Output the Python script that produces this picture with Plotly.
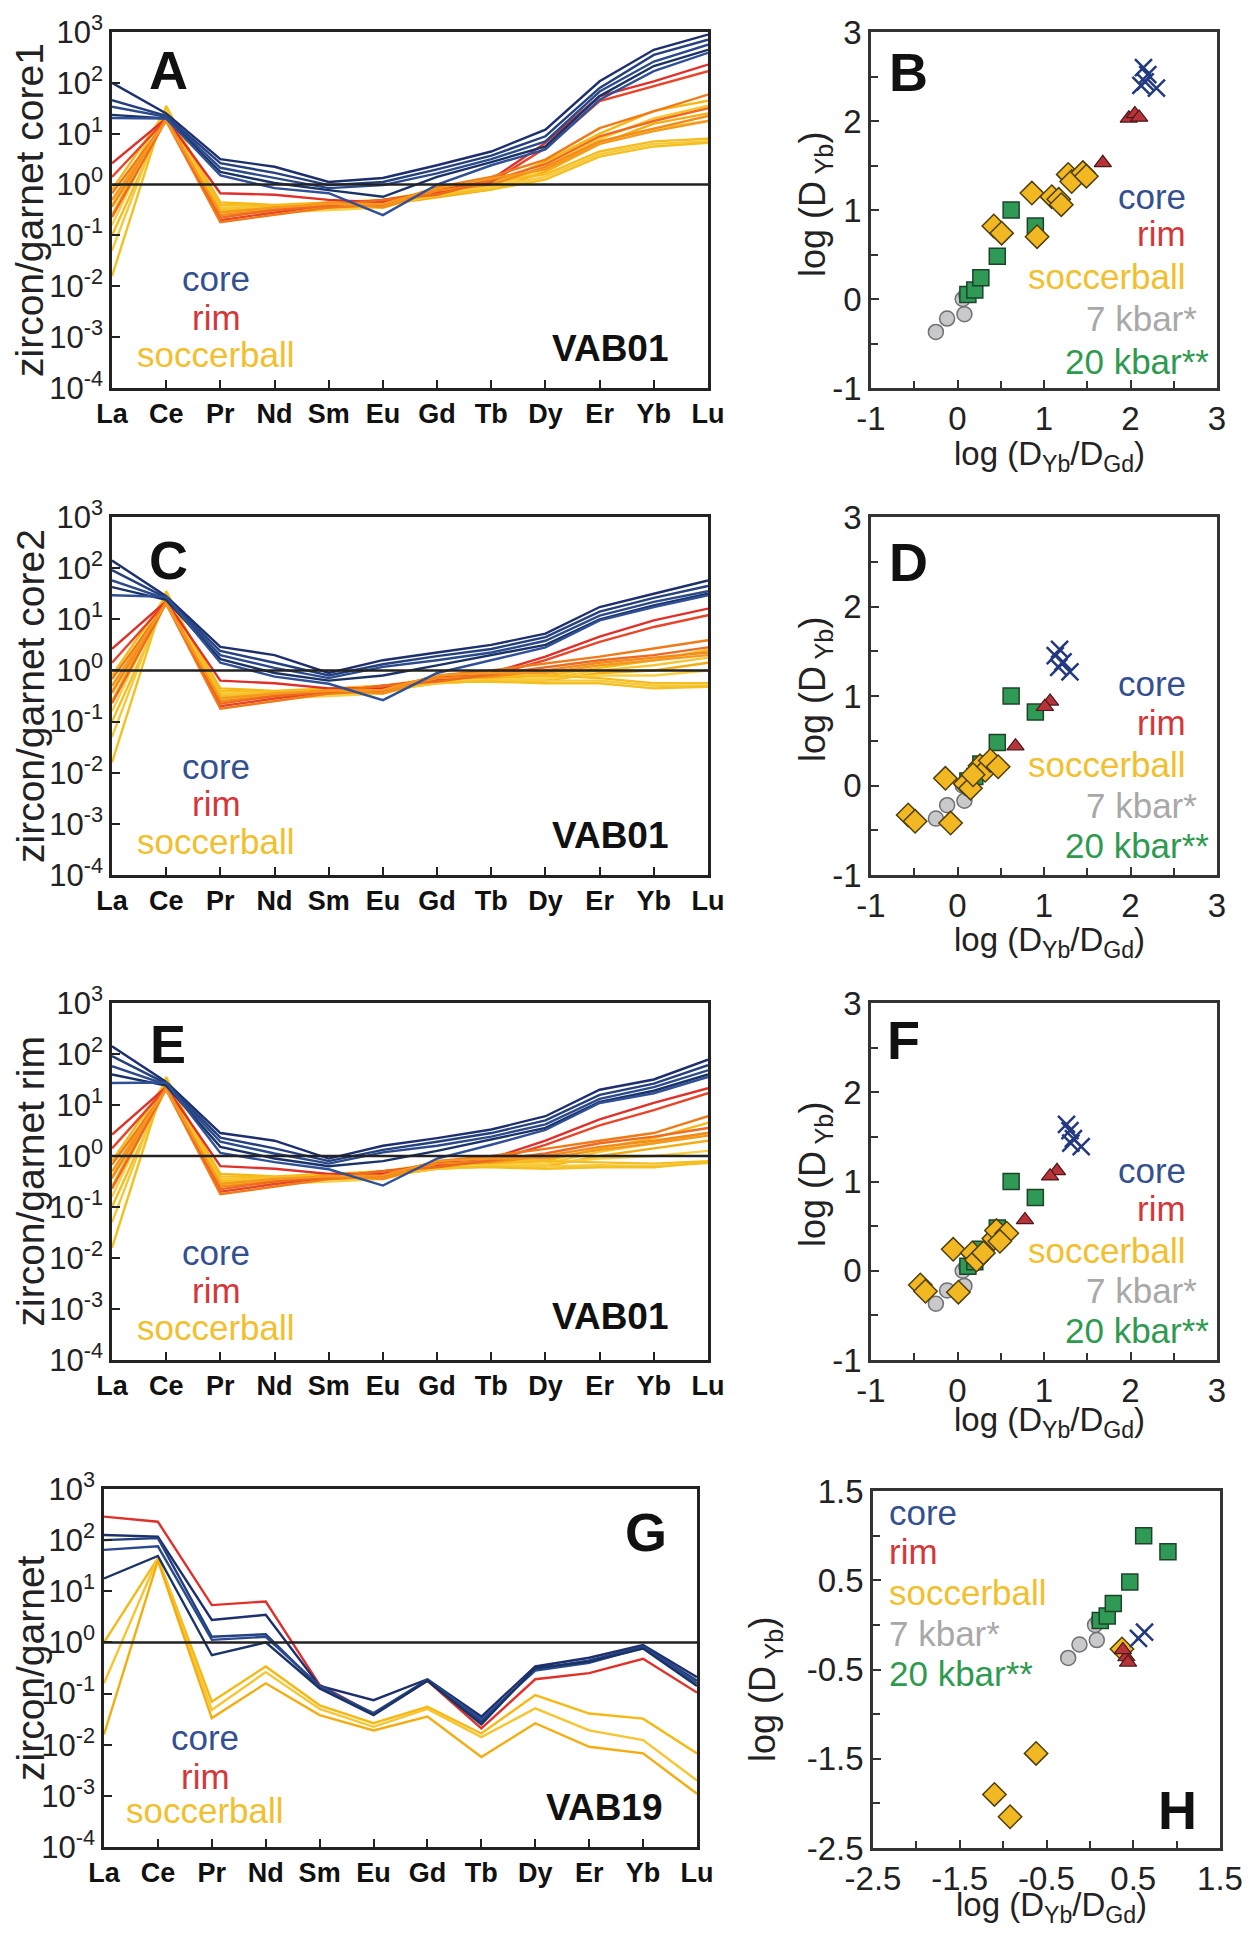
import plotly.graph_objects as go

REE = ["La", "Ce", "Pr", "Nd", "Sm", "Eu", "Gd", "Tb", "Dy", "Er", "Yb", "Lu"]
Y_TICKVALS = [1e-4, 1e-3, 1e-2, 1e-1, 1e0, 1e1, 1e2, 1e3]
Y_TICKTEXT = ["10<sup>-4</sup>", "10<sup>-3</sup>", "10<sup>-2</sup>", "10<sup>-1</sup>",
              "10<sup>0</sup>", "10<sup>1</sup>", "10<sup>2</sup>", "10<sup>3</sup>"]

# ---- log10(zircon/garnet) for each grain (La..Lu) ----
A_core = [
    [2.00, 1.40, 0.50, 0.35, 0.05, 0.13, 0.38, 0.65, 1.08, 2.03, 2.65, 2.95],
    [1.66, 1.35, 0.42, 0.23, -0.01, 0.05, 0.30, 0.57, 0.95, 1.90, 2.55, 2.85],
    [1.53, 1.33, 0.33, 0.13, -0.07, -0.01, 0.22, 0.50, 0.85, 1.83, 2.42, 2.75],
    [1.37, 1.30, 0.25, 0.03, -0.11, -0.24, 0.15, 0.44, 0.75, 1.74, 2.33, 2.65],
    [1.31, 1.30, 0.18, -0.07, -0.17, -0.60, 0.00, 0.38, 0.69, 1.67, 2.23, 2.59],
]
A_rim = [
    [0.42, 1.30, -0.17, -0.20, -0.30, -0.35, -0.10, 0.10, 0.82, 1.74, 2.03, 2.36],
    [0.15, 1.28, -0.70, -0.55, -0.40, -0.30, -0.15, 0.05, 0.72, 1.64, 1.93, 2.23],
    [-0.17, 1.25, -0.74, -0.60, -0.45, -0.40, -0.05, 0.15, 0.49, 1.11, 1.44, 1.77],
    [-0.44, 1.30, -0.60, -0.50, -0.35, -0.45, -0.12, 0.00, 0.35, 0.85, 1.10, 1.35],
    [-0.64, 1.27, -0.65, -0.50, -0.42, -0.30, -0.20, 0.08, 0.40, 0.95, 1.25, 1.50],
    [-0.30, 1.25, -0.55, -0.45, -0.38, -0.38, -0.08, 0.12, 0.30, 0.80, 1.05, 1.25],
]
A_soc = [
    [-0.10, 1.45, -0.35, -0.40, -0.35, -0.30, -0.15, 0.00, 0.45, 1.00, 1.45, 1.65],
    [-0.40, 1.50, -0.45, -0.45, -0.40, -0.35, -0.20, -0.05, 0.35, 0.90, 1.30, 1.55],
    [-0.60, 1.40, -0.50, -0.50, -0.45, -0.40, -0.25, -0.10, 0.25, 0.80, 1.20, 1.40],
    [-0.80, 1.45, -0.55, -0.55, -0.50, -0.45, -0.18, -0.08, 0.30, 0.85, 1.10, 1.25],
    [-1.00, 1.35, -0.40, -0.42, -0.38, -0.30, -0.12, 0.05, 0.20, 0.65, 0.85, 0.90],
    [-1.30, 1.50, -0.60, -0.50, -0.42, -0.38, -0.22, -0.05, 0.15, 0.60, 0.80, 0.85],
    [-1.80, 1.55, -0.50, -0.48, -0.45, -0.42, -0.20, -0.10, 0.10, 0.55, 0.75, 0.82],
]

C_core = [
    [2.15, 1.45, 0.46, 0.30, -0.05, 0.20, 0.35, 0.50, 0.72, 1.24, 1.50, 1.76],
    [1.96, 1.42, 0.38, 0.15, -0.10, 0.12, 0.28, 0.42, 0.65, 1.15, 1.42, 1.65],
    [1.76, 1.40, 0.30, 0.05, -0.15, 0.07, 0.20, 0.35, 0.58, 1.07, 1.34, 1.55],
    [1.63, 1.38, 0.22, -0.05, -0.20, -0.10, 0.10, 0.30, 0.50, 1.00, 1.27, 1.50],
    [1.47, 1.44, 0.15, -0.12, -0.26, -0.58, -0.05, 0.20, 0.45, 0.98, 1.24, 1.47],
]
C_rim = [
    [0.42, 1.35, -0.20, -0.25, -0.35, -0.35, -0.12, -0.05, 0.27, 0.66, 0.98, 1.21],
    [0.15, 1.33, -0.70, -0.55, -0.42, -0.30, -0.18, -0.10, 0.20, 0.56, 0.85, 1.08],
    [-0.17, 1.30, -0.75, -0.60, -0.45, -0.40, -0.10, 0.00, 0.14, 0.27, 0.43, 0.59],
    [-0.44, 1.35, -0.60, -0.50, -0.38, -0.45, -0.15, -0.12, 0.00, 0.15, 0.25, 0.35],
    [-0.64, 1.32, -0.65, -0.50, -0.42, -0.30, -0.22, -0.08, 0.05, 0.20, 0.30, 0.45],
    [-0.30, 1.30, -0.55, -0.45, -0.40, -0.38, -0.10, -0.05, -0.05, 0.10, 0.20, 0.30],
]
C_soc = [
    [-0.10, 1.45, -0.35, -0.40, -0.35, -0.30, -0.20, -0.15, -0.10, 0.05, 0.20, 0.40],
    [-0.40, 1.50, -0.45, -0.45, -0.40, -0.35, -0.22, -0.18, -0.15, 0.00, 0.10, 0.25],
    [-0.60, 1.40, -0.50, -0.50, -0.45, -0.40, -0.25, -0.20, -0.20, -0.05, 0.00, 0.15],
    [-0.80, 1.45, -0.55, -0.55, -0.50, -0.45, -0.20, -0.20, -0.15, -0.10, -0.10, 0.00],
    [-1.00, 1.35, -0.40, -0.42, -0.38, -0.30, -0.15, -0.10, -0.10, -0.15, -0.25, -0.25],
    [-1.30, 1.50, -0.60, -0.50, -0.42, -0.38, -0.25, -0.20, -0.20, -0.20, -0.30, -0.30],
    [-1.80, 1.55, -0.50, -0.48, -0.45, -0.42, -0.22, -0.22, -0.25, -0.25, -0.35, -0.32],
]

E_core = [
    [2.15, 1.45, 0.45, 0.30, -0.05, 0.20, 0.35, 0.52, 0.78, 1.30, 1.50, 1.89],
    [1.96, 1.42, 0.36, 0.15, -0.10, 0.12, 0.28, 0.45, 0.70, 1.20, 1.42, 1.78],
    [1.76, 1.40, 0.28, 0.05, -0.15, 0.07, 0.20, 0.38, 0.62, 1.12, 1.35, 1.68],
    [1.60, 1.38, 0.18, -0.05, -0.20, -0.10, 0.10, 0.32, 0.55, 1.06, 1.28, 1.60],
    [1.43, 1.44, 0.06, -0.12, -0.26, -0.58, -0.05, 0.22, 0.51, 1.04, 1.23, 1.55],
]
E_rim = [
    [0.42, 1.35, -0.20, -0.25, -0.35, -0.35, -0.12, -0.05, 0.30, 0.72, 1.04, 1.33],
    [0.15, 1.33, -0.70, -0.55, -0.42, -0.30, -0.18, -0.10, 0.22, 0.60, 0.90, 1.23],
    [-0.17, 1.30, -0.75, -0.60, -0.45, -0.40, -0.10, 0.00, 0.14, 0.30, 0.45, 0.78],
    [-0.44, 1.35, -0.60, -0.50, -0.38, -0.45, -0.15, -0.12, 0.00, 0.18, 0.30, 0.45],
    [-0.64, 1.32, -0.65, -0.50, -0.42, -0.30, -0.22, -0.08, 0.05, 0.25, 0.38, 0.55],
    [-0.30, 1.30, -0.55, -0.45, -0.40, -0.38, -0.10, -0.05, -0.05, 0.12, 0.25, 0.40],
]
E_soc = [
    [-0.10, 1.45, -0.35, -0.40, -0.35, -0.30, -0.20, -0.15, -0.10, 0.15, 0.35, 0.65],
    [-0.40, 1.50, -0.45, -0.45, -0.40, -0.35, -0.22, -0.18, -0.15, 0.08, 0.25, 0.45],
    [-0.60, 1.40, -0.50, -0.50, -0.45, -0.40, -0.25, -0.20, -0.20, 0.00, 0.15, 0.30],
    [-0.80, 1.45, -0.55, -0.55, -0.50, -0.45, -0.20, -0.20, -0.15, -0.05, 0.00, 0.10],
    [-1.00, 1.35, -0.40, -0.42, -0.38, -0.30, -0.15, -0.10, -0.10, -0.12, -0.15, -0.10],
    [-1.30, 1.50, -0.60, -0.50, -0.42, -0.38, -0.25, -0.20, -0.20, -0.18, -0.20, -0.14],
    [-1.80, 1.55, -0.50, -0.48, -0.45, -0.42, -0.22, -0.22, -0.25, -0.22, -0.22, -0.12],
]

G_core = [
    [2.10, 2.07, 0.44, 0.54, -0.85, -1.13, -0.72, -1.45, -0.47, -0.30, -0.05, -0.68],
    [2.00, 2.04, 0.11, 0.16, -0.88, -1.38, -0.73, -1.55, -0.52, -0.35, -0.08, -0.75],
    [1.81, 1.88, 0.05, 0.11, -0.85, -1.40, -0.74, -1.50, -0.55, -0.40, -0.10, -0.80],
    [1.25, 1.69, -0.25, 0.00, -0.90, -1.42, -0.75, -1.60, -0.50, -0.38, -0.12, -0.85],
]
G_rim = [
    [2.46, 2.36, 0.73, 0.80, -0.83, -1.40, -0.75, -1.68, -0.72, -0.60, -0.32, -0.98],
]
G_soc = [
    [0.00, 1.65, -1.16, -0.47, -1.23, -1.58, -1.26, -1.78, -1.03, -1.39, -1.49, -2.17],
    [-0.80, 1.65, -1.32, -0.58, -1.30, -1.65, -1.30, -1.85, -1.29, -1.72, -1.91, -2.70],
    [-1.80, 1.60, -1.48, -0.80, -1.42, -1.72, -1.45, -2.24, -1.58, -2.04, -2.17, -2.96],
]

# ---- scatter: log(DYb/DGd), log(DYb) ----
REF7_x = [-0.25, -0.12, 0.08, 0.06, 0.10]
REF7_y = [-0.37, -0.22, -0.17, 0.00, 0.05]
REF20_x = [0.12, 0.20, 0.27, 0.46, 0.62, 0.90]
REF20_y = [0.05, 0.10, 0.24, 0.48, 1.00, 0.82]

B_core_x = [2.15, 2.20, 2.17, 2.30, 2.12]
B_core_y = [2.60, 2.52, 2.44, 2.37, 2.40]
B_rim_x = [1.98, 2.05, 2.10, 1.68]
B_rim_y = [2.03, 2.08, 2.04, 1.53]
B_soc_x = [0.42, 0.51, 0.86, 0.92, 1.09, 1.17, 1.20, 1.28, 1.32, 1.45, 1.49]
B_soc_y = [0.82, 0.74, 1.19, 0.70, 1.15, 1.12, 1.06, 1.40, 1.32, 1.42, 1.38]

D_core_x = [1.18, 1.13, 1.22, 1.30, 1.17]
D_core_y = [1.52, 1.45, 1.38, 1.27, 1.32]
D_rim_x = [1.07, 1.01, 0.67]
D_rim_y = [0.94, 0.88, 0.44]
D_soc_x = [-0.57, -0.49, -0.14, -0.08, 0.09, 0.15, 0.26, 0.32, 0.38, 0.47, 0.18]
D_soc_y = [-0.33, -0.40, 0.08, -0.42, 0.02, -0.03, 0.22, 0.17, 0.28, 0.21, 0.12]

F_core_x = [1.26, 1.30, 1.34, 1.43, 1.31]
F_core_y = [1.64, 1.57, 1.48, 1.39, 1.43]
F_rim_x = [1.15, 1.07, 0.78]
F_rim_y = [1.12, 1.06, 0.57]
F_soc_x = [-0.43, -0.37, -0.05, 0.01, 0.17, 0.22, 0.30, 0.42, 0.45, 0.57, 0.49]
F_soc_y = [-0.16, -0.23, 0.24, -0.24, 0.20, 0.12, 0.20, 0.36, 0.45, 0.42, 0.33]

H_core_x = [0.63, 0.56]
H_core_y = [-0.08, -0.15]
H_rim_x = [0.42, 0.44, 0.38]
H_rim_y = [-0.36, -0.42, -0.28]
H_soc_x = [-0.62, -1.10, -0.92, 0.37]
H_soc_y = [-1.44, -1.90, -2.15, -0.27]

FONT = "Liberation Sans, Arial, sans-serif"
W, H = 1250, 1933

CORE_LINE = ["#1d2f6e", "#24407f", "#2a4a8c", "#1a3366", "#2f4f96"]
RIM_LINE = ["#e0302a", "#e8452a", "#f07a18", "#f38a1c", "#ee6a20", "#f5981f"]
SOC_LINE = ["#f6b812", "#f8c531", "#f4ad10", "#f9d044", "#f6bd22", "#f7c83a", "#f3c020"]

CORE_TXT = "#34508f"
RIM_TXT = "#d4373a"
SOC_TXT = "#f2c02e"
GRAY_TXT = "#a8a8a8"
GREEN_TXT = "#2e9a50"


def px_dom_x(l, r):
    return [l / W, r / W]


def px_dom_y(t, b):
    return [1 - b / H, 1 - t / H]


fig = go.Figure()
layout = {}
annotations = []

left_panels = [
    ("A", 1, (A_core, A_rim, A_soc), (112, 708, 32, 388), "zircon/garnet core1", (168, 70), "VAB01", (610, 348),
     (216, [279, 317, 354])),
    ("C", 3, (C_core, C_rim, C_soc), (112, 708, 517, 875), "zircon/garnet core2", (168, 560), "VAB01", (610, 835),
     (216, [766, 804, 841])),
    ("E", 5, (E_core, E_rim, E_soc), (112, 708, 1003, 1360), "zircon/garnet rim", (168, 1044), "VAB01", (610, 1316),
     (216, [1252, 1290, 1327])),
    ("G", 7, (G_core, G_rim, G_soc), (104, 697, 1489, 1847), "zircon/garnet", (646, 1532), "VAB19", (604, 1807),
     (205, [1737, 1776, 1810])),
]

LW = 2.4

for letter, idx, (core, rim, soc), (l, r, t, b), ylab, lpos, sample, spos, (lgx, lgys) in left_panels:
    xa = "x" if idx == 1 else f"x{idx}"
    ya = "y" if idx == 1 else f"y{idx}"
    for i, row in enumerate(soc):
        fig.add_trace(go.Scatter(x=REE, y=[10 ** v for v in row], mode="lines",
                                 line=dict(color=SOC_LINE[i % len(SOC_LINE)], width=LW),
                                 xaxis=xa, yaxis=ya, showlegend=False, hoverinfo="skip"))
    for i, row in enumerate(rim):
        fig.add_trace(go.Scatter(x=REE, y=[10 ** v for v in row], mode="lines",
                                 line=dict(color=RIM_LINE[i % len(RIM_LINE)], width=LW),
                                 xaxis=xa, yaxis=ya, showlegend=False, hoverinfo="skip"))
    for i, row in enumerate(core):
        fig.add_trace(go.Scatter(x=REE, y=[10 ** v for v in row], mode="lines",
                                 line=dict(color=CORE_LINE[i % len(CORE_LINE)], width=LW),
                                 xaxis=xa, yaxis=ya, showlegend=False, hoverinfo="skip"))
    fig.add_trace(go.Scatter(x=[REE[0], REE[-1]], y=[1, 1], mode="lines",
                             line=dict(color="#222", width=2.4), xaxis=xa, yaxis=ya,
                             showlegend=False, hoverinfo="skip"))
    kx = "xaxis" if idx == 1 else f"xaxis{idx}"
    ky = "yaxis" if idx == 1 else f"yaxis{idx}"
    layout[kx] = dict(domain=px_dom_x(l, r), anchor=ya, type="category", categoryorder="array",
                      categoryarray=REE, range=[0, 11], showline=True, mirror=True, automargin=False,
                      linecolor="#222", linewidth=2.5, ticks="inside", ticklen=8, tickwidth=2,
                      tickcolor="#222", showgrid=False, zeroline=False,
                      tickfont=dict(family=FONT, size=27, color="#111", weight="bold"))
    layout[ky] = dict(domain=px_dom_y(t, b), anchor=xa, type="log", range=[-4, 3], automargin=False,
                      tickvals=Y_TICKVALS, ticktext=Y_TICKTEXT, showline=True, mirror=True,
                      linecolor="#222", linewidth=2.5, ticks="inside", ticklen=8, tickwidth=2,
                      tickcolor="#222", showgrid=False, zeroline=False,
                      tickfont=dict(family=FONT, size=31, color="#222"))
    annotations.append(dict(text=ylab, x=30 / W, y=1 - ((t + b) / 2) / H, xref="paper", yref="paper",
                            textangle=-90, showarrow=False, xanchor="center", yanchor="middle",
                            font=dict(family=FONT, size=39, color="#222")))
    annotations.append(dict(text=letter, x=lpos[0] / W, y=1 - lpos[1] / H, xref="paper", yref="paper",
                            showarrow=False, xanchor="center", yanchor="middle",
                            font=dict(family=FONT, size=54, color="#111", weight="bold")))
    annotations.append(dict(text=sample, x=spos[0] / W, y=1 - spos[1] / H, xref="paper", yref="paper",
                            showarrow=False, xanchor="center", yanchor="middle",
                            font=dict(family=FONT, size=37, color="#111", weight="bold")))
    for txt, col, yy in zip(["core", "rim", "soccerball"], [CORE_TXT, RIM_TXT, SOC_TXT], lgys):
        annotations.append(dict(text=txt, x=lgx / W, y=1 - yy / H, xref="paper", yref="paper",
                                showarrow=False, xanchor="center", yanchor="middle",
                                font=dict(family=FONT, size=35, color=col)))

right_panels = [
    ("B", 2, (B_core_x, B_core_y, B_rim_x, B_rim_y, B_soc_x, B_soc_y), (871, 1217, 32, 388),
     [-1, 3], (908, 72), "right", [(1188, 197), (1188, 234), (1188, 276), (1199, 319), (1211, 361)], 456, 205, 815),
    ("D", 4, (D_core_x, D_core_y, D_rim_x, D_rim_y, D_soc_x, D_soc_y), (871, 1217, 517, 875),
     [-1, 3], (908, 562), "right", [(1188, 683), (1188, 722), (1188, 764), (1199, 805), (1211, 845)], 942, 690, 815),
    ("F", 6, (F_core_x, F_core_y, F_rim_x, F_rim_y, F_soc_x, F_soc_y), (871, 1217, 1003, 1360),
     [-1, 3], (904, 1040), "right", [(1188, 1170), (1188, 1208), (1188, 1250), (1199, 1290), (1211, 1330)], 1422, 1175, 815),
    ("H", 8, (H_core_x, H_core_y, H_rim_x, H_rim_y, H_soc_x, H_soc_y), (873, 1220, 1491, 1848),
     [-2.5, 1.5], (1177, 1810), "left", [(887, 1512), (887, 1551), (887, 1592), (887, 1633), (887, 1673)], 1907, 1690, 765),
]

for letter, idx, (cx, cy, rx, ry, sx, sy), (l, r, t, b), rng, lpos, align, lg, xt_y, yt_y, yt_x in right_panels:
    xa, ya = f"x{idx}", f"y{idx}"
    common = dict(xaxis=xa, yaxis=ya, mode="markers", showlegend=False, hoverinfo="skip")
    fig.add_trace(go.Scatter(x=REF7_x, y=REF7_y, marker=dict(symbol="circle", size=15, color="#c9c9cc",
                                                             line=dict(color="#6f6f75", width=1.5)), **common))
    fig.add_trace(go.Scatter(x=REF20_x, y=REF20_y, marker=dict(symbol="square", size=16, color="#2f9a55",
                                                               line=dict(color="#1d4429", width=1.5)), **common))
    fig.add_trace(go.Scatter(x=sx, y=sy, marker=dict(symbol="diamond", size=18, color="#f2b824",
                                                     line=dict(color="#4d3f0c", width=1.5)), **common))
    fig.add_trace(go.Scatter(x=rx, y=ry, marker=dict(symbol="triangle-up", size=15, color="#b8323a",
                                                     line=dict(color="#4a1818", width=1.2)), **common))
    fig.add_trace(go.Scatter(x=cx, y=cy, marker=dict(symbol="x-thin", size=17, color="#23397f",
                                                     line=dict(color="#23397f", width=2.5)), **common))
    if rng[0] == -1:
        tv = [-1, 0, 1, 2, 3]
        tt = ["-1", "0", "1", "2", "3"]
        mv = [-0.5, 0.5, 1.5, 2.5]
    else:
        tv = [-2.5, -1.5, -0.5, 0.5, 1.5]
        tt = ["-2.5", "-1.5", "-0.5", "0.5", "1.5"]
        mv = [-2, -1, 0, 1]
    axcommon = dict(showline=True, mirror=True, linecolor="#333", linewidth=2.5, ticks="inside",
                    ticklen=8, tickwidth=2, tickcolor="#333", showgrid=False, zeroline=False,
                    tickvals=tv, ticktext=tt, range=rng, automargin=False,
                    minor=dict(tickvals=mv, ticks="inside", ticklen=7, tickwidth=2, tickcolor="#333"),
                    tickfont=dict(family=FONT, size=33, color="#222"))
    layout[f"xaxis{idx}"] = dict(domain=px_dom_x(l, r), anchor=ya, **axcommon)
    layout[f"yaxis{idx}"] = dict(domain=px_dom_y(t, b), anchor=xa, **axcommon)
    annotations.append(dict(text=letter, x=lpos[0] / W, y=1 - lpos[1] / H, xref="paper", yref="paper",
                            showarrow=False, xanchor="center", yanchor="middle",
                            font=dict(family=FONT, size=54, color="#111", weight="bold")))
    labels = ["core", "rim", "soccerball", "7 kbar*", "20 kbar**"]
    cols = [CORE_TXT, RIM_TXT, SOC_TXT, GRAY_TXT, GREEN_TXT]
    for txt, col, (lx, ly) in zip(labels, cols, lg):
        annotations.append(dict(text=txt, x=lx / W, y=1 - ly / H, xref="paper", yref="paper",
                                showarrow=False, xanchor=align, yanchor="middle",
                                font=dict(family=FONT, size=35, color=col)))
    annotations.append(dict(text="log (D<sub>Yb</sub>/D<sub>Gd</sub>)", x=((l + r) / 2 + 5) / W, y=1 - xt_y / H,
                            xref="paper", yref="paper", showarrow=False, xanchor="center", yanchor="middle",
                            font=dict(family=FONT, size=33, color="#222")))
    annotations.append(dict(text="log (D<sub> Yb</sub>)", x=yt_x / W, y=1 - yt_y / H,
                            xref="paper", yref="paper", showarrow=False, xanchor="center", yanchor="middle",
                            textangle=-90, font=dict(family=FONT, size=36, color="#222")))

fig.update_layout(width=W, height=H, margin=dict(l=0, r=0, t=0, b=0, autoexpand=False),
                  paper_bgcolor="white", plot_bgcolor="white", showlegend=False,
                  annotations=annotations, **layout)

fig.write_html("out.html")
